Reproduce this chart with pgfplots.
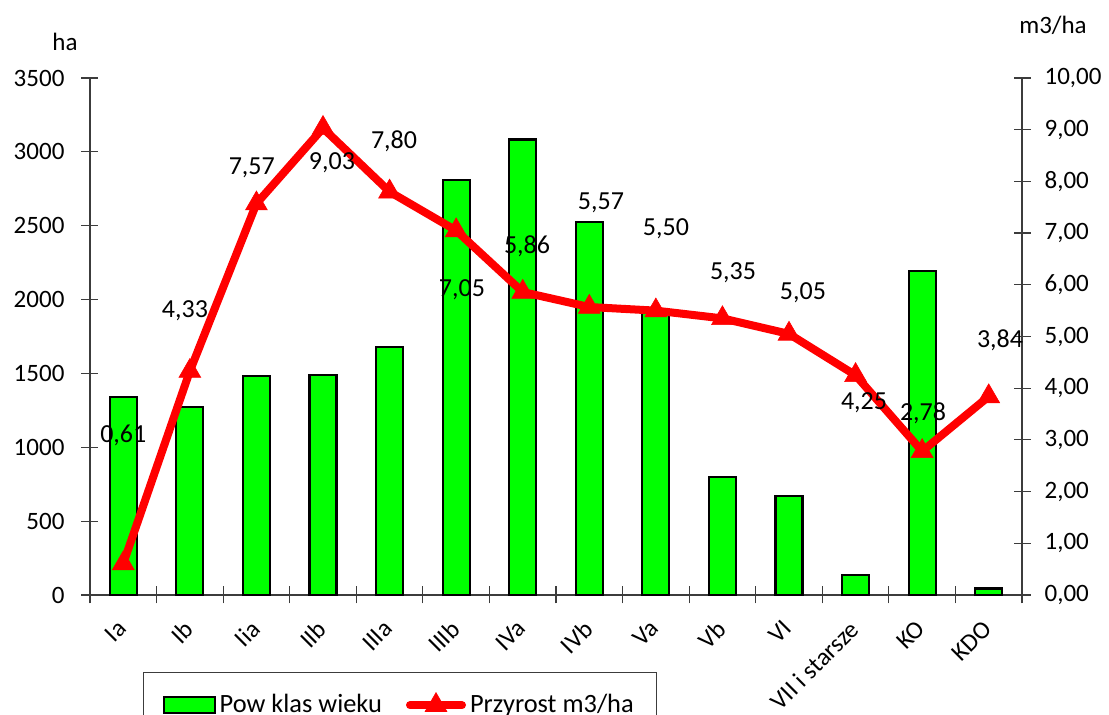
\documentclass[border=0pt]{standalone}
\usepackage{fontspec}
\setmainfont{Carlito}
\usepackage{pgfplots}
\pgfplotsset{compat=1.18}
\definecolor{bargreen}{RGB}{0,255,0}
\definecolor{linered}{RGB}{255,0,0}
\definecolor{axgray}{RGB}{60,60,60}
\begin{document}
\begin{tikzpicture}[x=1pt,y=1pt]
\path[use as bounding box] (-45,-60) rectangle (509.5,297.5);
\begin{axis}[
  at={(0,0)}, anchor=south west,
  scale only axis, width=466pt, height=258.5pt,
  xmin=-0.5, xmax=13.5, ymin=0, ymax=3500,
  axis x line*=bottom, axis y line*=left,
  axis line style={axgray, line width=0.6pt},
  tick style={axgray, line width=0.6pt},
  tick align=center,
  major tick length=8.5pt, minor tick length=8.5pt,
  xtick={0,...,13},
  xticklabels={Ia,Ib,Iia,IIb,IIIa,IIIb,IVa,IVb,Va,Vb,VI,VII i starsze,KO,KDO},
  major x tick style={draw=none},
  minor xtick={-0.5,0.5,...,13.5},
  xticklabel style={anchor=north east, font=\fontsize{12.5}{14}\selectfont, inner sep=0pt, xshift=-3.5pt, yshift=-7.5pt, rotate=45},
  ytick={0,500,...,3500},
  yticklabel style={font=\fontsize{12.5}{14}\selectfont, xshift=-5pt},
  /pgf/number format/1000 sep={},
  /pgf/number format/assume math mode=true,
  clip=false,
]
\addplot[ybar, bar width=13.5pt, fill=bargreen, draw=black, line width=1.1pt] coordinates {
(0,1340) (1,1272) (2,1481) (3,1488) (4,1679) (5,2807) (6,3084)
(7,2523) (8,1923) (9,798) (10,670) (11,135) (12,2191) (13,44)
};
\end{axis}
\begin{axis}[
  at={(0,0)}, anchor=south west,
  scale only axis, width=466pt, height=258.5pt,
  xmin=-0.5, xmax=13.5, ymin=0, ymax=10,
  axis x line=none, axis y line*=right,
  axis line style={axgray, line width=0.6pt},
  tick style={axgray, line width=0.6pt},
  tick align=center, major tick length=8.5pt,
  ytick={0,1,...,10},
  yticklabel style={font=\fontsize{12.5}{14}\selectfont, xshift=3.5pt, /pgf/number format/.cd, fixed, fixed zerofill, precision=2, use comma, assume math mode=true},
  clip=false,
  legend style={at={(0.0569,-0.1489)}, anchor=north west, draw=axgray, line width=0.6pt,
    legend columns=2, font=\fontsize{13.2}{15}\selectfont, inner xsep=9.5pt, inner ysep=9pt,
    /tikz/every even column/.append style={column sep=10pt}},
]
\addlegendimage{legend image code/.code={\draw[fill=bargreen, draw=black, line width=1pt] (0pt,-4pt) rectangle (25.5pt,4pt);}}
\addlegendentry{Pow klas wieku}
\addplot[linered, line width=4pt, mark=triangle*, mark size=6.3pt, mark options={solid, fill=linered, line width=0.3pt},
  legend image code/.code={\draw[line cap=round, mark repeat=2, mark phase=2] plot coordinates {(2pt,0pt) (15pt,0pt) (28pt,0pt)};}] coordinates {
(0,0.61) (1,4.33) (2,7.57) (3,9.03) (4,7.80) (5,7.05) (6,5.86)
(7,5.57) (8,5.50) (9,5.35) (10,5.05) (11,4.25) (12,2.78) (13,3.84)
};
\addlegendentry{Przyrost m3/ha}
\begin{scope}[every node/.style={font=\fontsize{13}{15}\selectfont, inner sep=0pt}]
\node at (axis cs:0,3.09) {0,61};
\node at (axis cs:0.927,5.49) {4,33};
\node at (axis cs:1.93,8.26) {7,57};
\node at (axis cs:3.135,8.36) {9,03};
\node at (axis cs:4.067,8.78) {7,80};
\node at (axis cs:5.088,5.9) {7,05};
\node at (axis cs:6.065,6.75) {5,86};
\node at (axis cs:7.176,7.58) {5,57};
\node at (axis cs:8.152,7.08) {5,50};
\node at (axis cs:9.159,6.23) {5,35};
\node at (axis cs:10.21,5.84) {5,05};
\node at (axis cs:11.127,3.71) {4,25};
\node at (axis cs:12.013,3.52) {2,78};
\node at (axis cs:13.17,4.93) {3,84};
\end{scope}
\end{axis}
\node[font=\fontsize{12.5}{14}\selectfont] at (-12.5,276.5) {ha};
\node[font=\fontsize{12.5}{14}\selectfont] at (481.5,285) {m3/ha};
\end{tikzpicture}
\end{document}
